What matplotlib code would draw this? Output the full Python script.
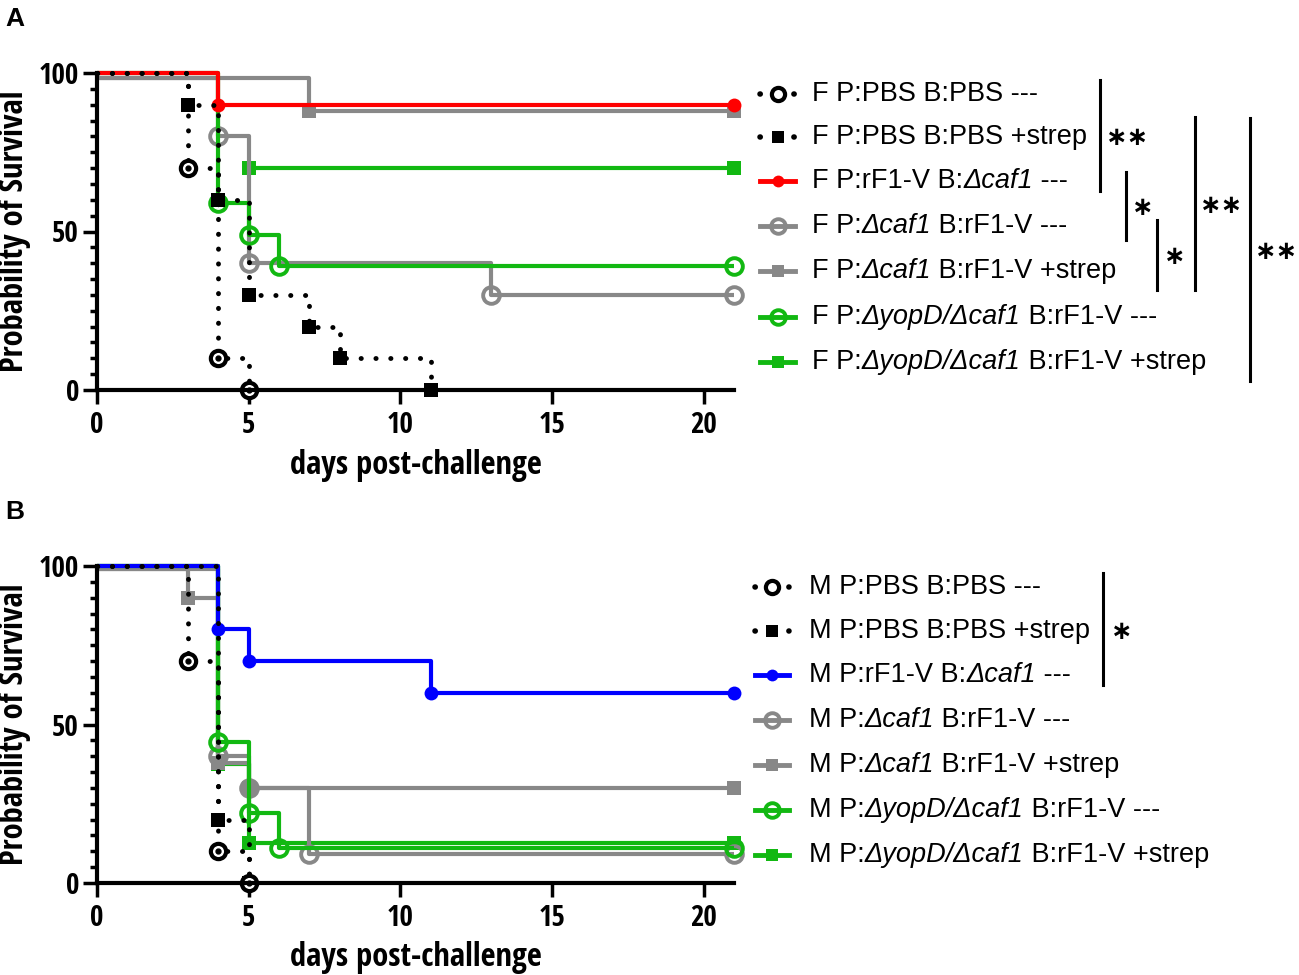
import matplotlib
matplotlib.use("Agg")
import matplotlib.pyplot as plt
from matplotlib.lines import Line2D
from matplotlib import font_manager
from matplotlib.font_manager import FontProperties
from matplotlib.offsetbox import TextArea, HPacker, AnnotationBbox

plt.rcParams['font.family'] = ['Liberation Sans', 'DejaVu Sans']

# ---- data: panel A (females) ----
a_pbs_t = [0, 3, 4, 5]
a_pbs_s = [100, 70, 10, 0]
a_pbs_strep_t = [0, 3, 4, 5, 7, 8, 11]
a_pbs_strep_s = [100, 90, 60, 30, 20, 10, 0]
a_rf1v_t = [0, 4, 21]
a_rf1v_s = [100, 90, 90]
a_caf1_t = [0, 4, 5, 13, 21]
a_caf1_s = [98.5, 80, 40, 30, 30]
a_caf1_strep_t = [0, 7, 21]
a_caf1_strep_s = [98.5, 88, 88]
a_yopd_t = [0, 4, 5, 6, 21]
a_yopd_s = [100, 59, 49, 39, 39]
a_yopd_strep_t = [0, 5, 21]
a_yopd_strep_s = [100, 70, 70]

# ---- data: panel B (males) ----
b_pbs_t = [0, 3, 4, 5]
b_pbs_s = [100, 70, 10, 0]
b_pbs_strep_t = [0, 4, 5]
b_pbs_strep_s = [100, 20, 0]
b_rf1v_t = [0, 4, 5, 11, 21]
b_rf1v_s = [100, 80, 70, 60, 60]
b_caf1_t = [0, 4, 5, 7, 21]
b_caf1_s = [99, 40, 30, 9, 9]
b_caf1_strep_t = [0, 3, 4, 5, 21]
b_caf1_strep_s = [99, 90, 38, 30, 30]
b_yopd_t = [0, 4, 5, 6, 21]
b_yopd_s = [100, 44.4, 22.2, 11.1, 11.1]
b_yopd_strep_t = [0, 4, 5, 21]
b_yopd_strep_s = [100, 37.5, 12.5, 12.5]

# group labels as (text, italic) pieces
groups = [
    [('P:PBS B:PBS ---', False)],
    [('P:PBS B:PBS +strep', False)],
    [('P:rF1-V B:', False), ('Δcaf1', True), (' ---', False)],
    [('P:', False), ('Δcaf1', True), (' B:rF1-V ---', False)],
    [('P:', False), ('Δcaf1', True), (' B:rF1-V +strep', False)],
    [('P:', False), ('ΔyopD/Δcaf1', True), (' B:rF1-V ---', False)],
    [('P:', False), ('ΔyopD/Δcaf1', True), (' B:rF1-V +strep', False)],
]

# significance: (bar x, bar top, bar bottom, stars, star x, star y) in pixels
sig_a = [(1100, 80, 191, '∗∗', 1128, 138),
         (1126, 172, 240, '∗', 1143, 208),
         (1157, 220, 290, '∗', 1175, 257),
         (1195, 117, 290, '∗∗', 1222, 206),
         (1250, 118, 381, '∗∗', 1277, 252)]
sig_b = [(1103, 573, 685, '∗', 1122, 632)]

GRAY = '#888888'
GREEN = '#12b812'
DOT = (0, (0.05, 3))


# bold condensed font for axis texts (Arial Narrow look)
def find_narrow():
    best = None
    for f in font_manager.fontManager.ttflist:
        nm = f.name + ' ' + f.fname
        narrow = ('Narrow' in nm) or ('Condensed' in nm) or (f.stretch in ('condensed', 'semi-condensed', 'extra-condensed'))
        if not narrow:
            continue
        w = f.weight if isinstance(f.weight, int) else (700 if 'bold' in str(f.weight) else 400)
        if w < 600 or f.style != 'normal':
            continue
        score = 0
        if 'Liberation' in nm:
            score = 3
        elif 'Arial' in nm:
            score = 2
        elif 'Roboto' in nm or 'Noto' in nm or 'Open' in nm:
            score = 1
        if best is None or score > best[0]:
            best = (score, f.fname)
    return best[1] if best else None


narrow_file = find_narrow()


def axis_font(size):
    if narrow_file:
        return FontProperties(fname=narrow_file, size=size)
    return FontProperties(family='Liberation Sans', weight='bold', size=size)


def styles(main_color):
    return [
        dict(color='black', ls=DOT, lw=3.5, marker='o', ms=11, mfc='white', mec='black', mew=3),
        dict(color='black', ls=DOT, lw=3.5, marker='s', ms=10, mfc='black', mec='black', mew=0),
        dict(color=main_color, ls='-', lw=3, marker='o', ms=10, mfc=main_color, mec=main_color, mew=0),
        dict(color=GRAY, ls='-', lw=3, marker='o', ms=12, mfc='none', mec=GRAY, mew=2.8),
        dict(color=GRAY, ls='-', lw=3, marker='s', ms=10, mfc=GRAY, mec=GRAY, mew=0),
        dict(color=GREEN, ls='-', lw=3, marker='o', ms=12, mfc='none', mec=GREEN, mew=2.8),
        dict(color=GREEN, ls='-', lw=3, marker='s', ms=10, mfc=GREEN, mec=GREEN, mew=0),
    ]


order = [6, 4, 3, 5, 2, 1, 0]
zorders = {6: 2, 4: 3, 3: 4, 5: 5, 2: 7, 1: 8, 0: 9}

fig = plt.figure(figsize=(12.99, 9.75), dpi=100)
W, H = 1299, 975


def fx(p):
    return p / W


def fy(p):
    return 1 - p / H


def draw_panel(top_px, bot_px, series, main_color, prefix, letter, rows_y, text_x, hx0, hx1, sig,
               hidden_start=()):
    ax = fig.add_axes([fx(97), fy(bot_px), fx(734) - fx(97), fy(top_px) - fy(bot_px)])
    st = styles(main_color)
    for i in order:
        t, s = series[i]
        kw = st[i]
        k0 = 1 if i in hidden_start else 0  # the first step of this curve is not visible in the figure
        ax.step(t[k0:], s[k0:], where='post', color=kw['color'], ls=kw['ls'], lw=kw['lw'],
                dash_capstyle='round', solid_capstyle='butt', clip_on=False, zorder=zorders[i])
        ax.plot(t[1:], s[1:], ls='none', marker=kw['marker'], ms=kw['ms'], mfc=kw['mfc'],
                mec=kw['mec'], mew=kw['mew'], clip_on=False, zorder=zorders[i] + 0.5)
        if i == 0:
            ax.plot(t[1:], s[1:], ls='none', marker='o', ms=3.5, color='black',
                    clip_on=False, zorder=zorders[i] + 0.6)

    ax.set_xlim(0, 21)
    ax.set_ylim(0, 100)
    for side in ['top', 'right']:
        ax.spines[side].set_visible(False)
    for side in ['left', 'bottom']:
        ax.spines[side].set_linewidth(3)
        ax.spines[side].set_zorder(20)
    ax.set_xticks([0, 5, 10, 15, 20])
    ax.set_yticks([0, 50, 100])
    ax.set_yticks(range(0, 101, 5), minor=True)
    ax.tick_params(axis='both', which='major', length=10, width=2.5, direction='out', pad=3)
    ax.tick_params(axis='x', which='major', pad=5)
    ax.tick_params(axis='y', which='minor', length=5, width=2.5, direction='out')
    ax.tick_params(axis='x', which='minor', length=0)
    for lab in ax.get_xticklabels() + ax.get_yticklabels():
        lab.set_fontproperties(axis_font(21))

    fig.text(fx(15), fy((top_px + bot_px) / 2), 'Probability of Survival', rotation=90,
             ha='center', va='center', fontproperties=axis_font(23.5))
    fig.text(fx(416), fy(bot_px + 75), 'days post-challenge', ha='center', va='center',
             fontproperties=axis_font(23.5))
    fig.text(fx(5), fy(top_px - 54), letter, ha='left', va='center', fontsize=19, fontweight='bold')

    # legend, drawn by hand
    for i, y in enumerate(rows_y):
        kw = st[i]
        fig.add_artist(Line2D([fx(hx0), fx(hx1)], [fy(y), fy(y)], color=kw['color'], ls=kw['ls'],
                              lw=kw['lw'] + 0.5, dash_capstyle='round', transform=fig.transFigure))
        fig.add_artist(Line2D([fx((hx0 + hx1) / 2)], [fy(y)], ls='none', marker=kw['marker'],
                              ms=kw['ms'] - 1.5, mfc=kw['mfc'], mec=kw['mec'], mew=kw['mew'],
                              transform=fig.transFigure))
        pieces = [(prefix + ' ', False)] + groups[i]
        pieces = [(pieces[0][0] + pieces[1][0], pieces[1][1])] + pieces[2:]
        boxes = [TextArea(txt, textprops=dict(fontsize=19.5, family='Liberation Sans',
                                              style='italic' if it else 'normal'))
                 for txt, it in pieces]
        pack = HPacker(children=boxes, pad=0, sep=0, align='baseline')
        fig.add_artist(AnnotationBbox(pack, (fx(text_x), fy(y)), xycoords='figure fraction',
                                      box_alignment=(0, 0.5), frameon=False, pad=0))

    # significance bars
    for x, y0, y1, stars, sx, sy in sig:
        fig.add_artist(Line2D([fx(x), fx(x)], [fy(y0), fy(y1)], color='black', lw=2.2,
                              transform=fig.transFigure))
        fig.text(fx(sx), fy(sy), stars, ha='center', va='center', fontsize=18.5,
                 fontweight='bold', family=['DejaVu Sans'])
    return ax


series_a = [(a_pbs_t, a_pbs_s), (a_pbs_strep_t, a_pbs_strep_s), (a_rf1v_t, a_rf1v_s),
            (a_caf1_t, a_caf1_s), (a_caf1_strep_t, a_caf1_strep_s),
            (a_yopd_t, a_yopd_s), (a_yopd_strep_t, a_yopd_strep_s)]
series_b = [(b_pbs_t, b_pbs_s), (b_pbs_strep_t, b_pbs_strep_s), (b_rf1v_t, b_rf1v_s),
            (b_caf1_t, b_caf1_s), (b_caf1_strep_t, b_caf1_strep_s),
            (b_yopd_t, b_yopd_s), (b_yopd_strep_t, b_yopd_strep_s)]

draw_panel(73, 390, series_a, '#ff0000', 'F', 'A',
           [94, 137, 181, 226, 271, 317, 362], 812, 760, 795, sig_a, hidden_start=(6,))
draw_panel(566, 883, series_b, '#0000ff', 'M', 'B',
           [587, 631, 675, 720, 765, 810, 855], 809, 755, 789, sig_b)

fig.savefig('out.png', dpi=100)
